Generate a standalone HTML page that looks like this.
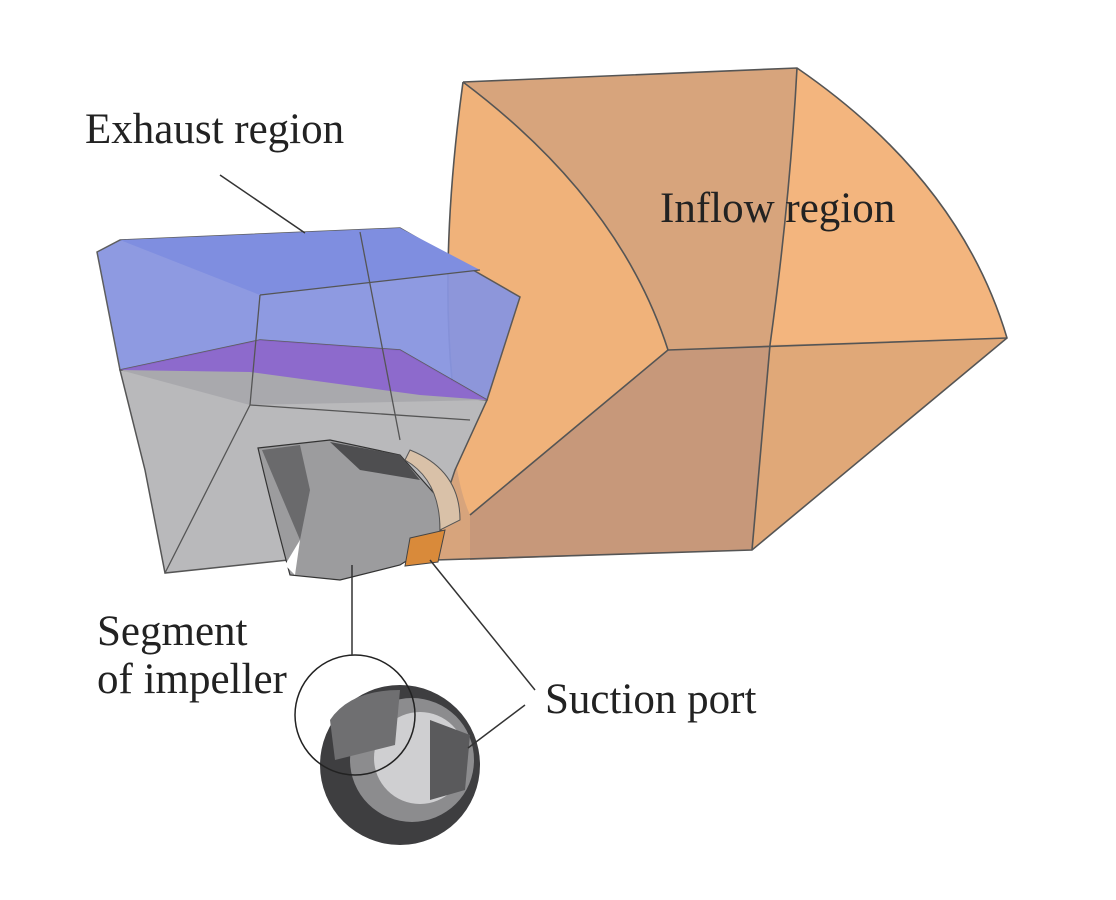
<!DOCTYPE html>
<html><head><meta charset="utf-8"><style>
html,body{margin:0;padding:0;background:#fff;width:1116px;height:900px;overflow:hidden}
svg text{font-family:"Liberation Serif",serif;font-size:43px;fill:#222}
</style></head><body>
<svg width="1116" height="900" viewBox="0 0 1116 900">
<g>
  <path d="M463,82 L797,68 Q960,180 1007,338 L752,550 L435,560 Q455,470 452,380 Q440,250 463,82 Z" fill="#d7a47c"/>
  <path d="M463,82 Q620,200 668,350 L470,515 Q450,470 452,380 Q440,250 463,82 Z" fill="#f0b27a"/>
  <path d="M797,68 Q960,180 1007,338 L770,345 Q790,200 797,68 Z" fill="#f3b57e"/>
  <path d="M770,345 L1007,338 L752,550 Z" fill="#e0a878"/>
  <path d="M668,350 L770,345 L752,550 L470,560 L470,515 Z" fill="#c7987a"/>
  <g fill="none" stroke="#555" stroke-width="1.6">
    <path d="M463,82 L797,68 Q960,180 1007,338 L752,550 L435,560"/>
    <path d="M463,82 Q440,250 452,380 Q455,470 435,560"/>
    <path d="M463,82 Q620,200 668,350 L470,515"/>
    <path d="M668,350 L1007,338"/>
    <path d="M797,68 Q790,200 770,345 L752,550"/>
  </g>
</g>
<g>
  <path d="M120,370 L487,400 L455,470 L430,545 L165,573 L145,470 Z" fill="#b9b9bb" stroke="#555" stroke-width="1.5"/>
  <path d="M120,370 L260,340 L400,350 L487,400 L250,405 Z" fill="#a9a9ad"/>
  <path d="M97,252 L120,240 L400,228 L520,297 L487,400 L400,350 L260,340 L120,370 Z" fill="#8895e0" opacity="0.95" stroke="#555" stroke-width="1.5"/>
  <path d="M120,370 L260,340 L400,350 L487,400 L420,395 L250,372 Z" fill="#8a63cf" opacity="0.9"/>
  <path d="M120,240 L400,228 L480,270 L260,295 Z" fill="#7f8ee0"/>
  <g fill="none" stroke="#555" stroke-width="1.3">
    <path d="M260,295 L480,270"/><path d="M260,295 L250,405 L165,573"/>
    <path d="M360,232 L400,440"/><path d="M250,405 L470,420"/>
  </g>
</g>
<g>
  <path d="M258,448 L330,440 L400,455 L440,500 L440,540 L400,565 L340,580 L290,575 Q270,500 258,448 Z" fill="#9c9c9e" stroke="#333" stroke-width="1.2"/>
  <path d="M262,450 L300,445 L310,490 L300,540 Z" fill="#6a6a6c"/>
  <path d="M330,442 L400,455 L420,480 L360,470 Z" fill="#4e4e50"/>
  <path d="M300,540 L295,575 L285,565 Z" fill="#fff"/>
  <path d="M410,450 Q460,470 460,520 L440,530 Q440,480 405,460 Z" fill="#d9c1a8" stroke="#555" stroke-width="1"/>
</g>
<path d="M410,538 L445,530 L438,562 L405,566 Z" fill="#d98a3a" stroke="#444" stroke-width="1"/>
<g>
  <circle cx="400" cy="765" r="80" fill="#3e3e40"/>
  <circle cx="412" cy="760" r="62" fill="#8c8c8e"/>
  <circle cx="420" cy="758" r="46" fill="#cfcfd1"/>
  <path d="M430,720 L470,735 L465,790 L430,800 Z" fill="#5a5a5c"/>
  <path d="M330,720 Q350,690 400,690 L395,745 L335,760 Z" fill="#6f6f71"/>
  <circle cx="355" cy="715" r="60" fill="none" stroke="#222" stroke-width="1.5"/>
</g>
<g stroke="#333" stroke-width="1.5" fill="none">
  <line x1="220" y1="175" x2="305" y2="233"/>
  <line x1="352" y1="565" x2="352" y2="655"/>
  <line x1="430" y1="560" x2="535" y2="690"/>
  <line x1="525" y1="705" x2="468" y2="748"/>
</g>
<text x="85" y="143">Exhaust region</text>
<text x="660" y="222">Inflow region</text>
<text x="97" y="645">Segment</text>
<text x="97" y="693">of impeller</text>
<text x="545" y="713">Suction port</text>
</svg>
</body></html>
